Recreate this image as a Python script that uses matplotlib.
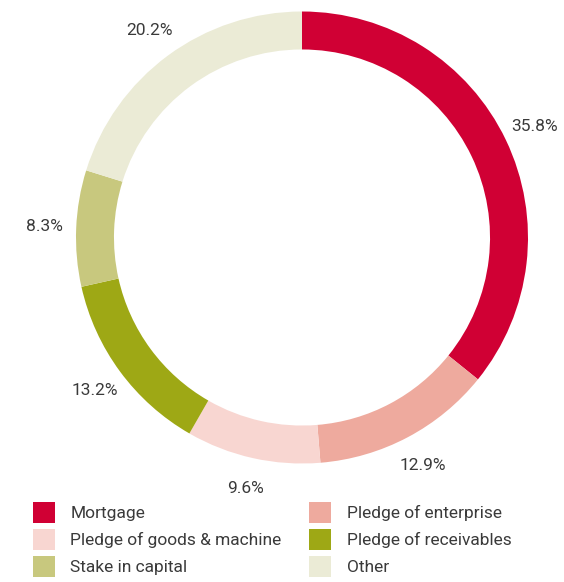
import numpy as np
import matplotlib.pyplot as plt
from matplotlib.patches import Patch

categories = ["Mortgage", "Pledge of enterprise", "Pledge of goods & machine",
              "Pledge of receivables", "Stake in capital", "Other"]
shares = [35.8, 12.9, 9.6, 13.2, 8.3, 20.2]
colors = ["#D00034", "#EEAA9E", "#F8D6D1", "#9EA815", "#C8C87E", "#EBEBD6"]

plt.rcParams['font.family'] = ['Roboto', 'DejaVu Sans']
text_color = "#3a3a3a"

fig = plt.figure(figsize=(5.64, 5.82), dpi=100)
ax = fig.add_axes([76 / 564, 118.5 / 582, 452 / 564, 452 / 582])

wedges, _ = ax.pie(shares, colors=colors, startangle=90, counterclock=False,
                   radius=1.0, wedgeprops=dict(width=0.168, linewidth=0))

# percentage labels outside the ring
for w, v in zip(wedges, shares):
    ang = np.deg2rad((w.theta1 + w.theta2) / 2)
    ax.text(1.14 * np.cos(ang), 1.14 * np.sin(ang), f"{v:.1f}%",
            ha="center", va="center", fontsize=12.5, color=text_color)

ax.set_xlim(-1, 1)
ax.set_ylim(-1, 1)
ax.set_aspect("equal")
ax.axis("off")

# legend in row order: two columns
order = [0, 2, 4, 1, 3, 5]
handles = [Patch(facecolor=colors[i], edgecolor="none") for i in order]
labels = [categories[i] for i in order]
leg = fig.legend(handles, labels, ncol=2, loc="upper left",
                 bbox_to_anchor=(33 / 564, 1 - 502 / 582), frameon=False,
                 fontsize=12.5, handlelength=1.25, handleheight=1.45,
                 handletextpad=0.9, columnspacing=1.6, labelspacing=0.38,
                 borderaxespad=0, borderpad=0)
for t in leg.get_texts():
    t.set_color(text_color)

fig.savefig("out.png", dpi=100)
